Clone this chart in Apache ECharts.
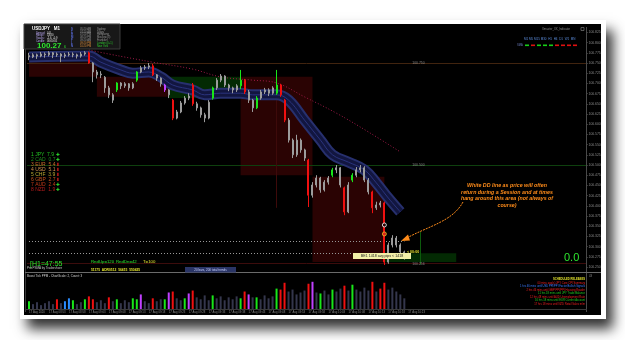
<!DOCTYPE html>
<html><head><meta charset="utf-8">
<script src="https://cdn.jsdelivr.net/npm/echarts@6/dist/echarts.min.js"></script>
<style>
html,body{margin:0;padding:0;background:#fff;width:625px;height:340px;overflow:hidden;}
#frame{position:absolute;left:20px;top:20px;width:586px;height:299px;background:#fff;box-shadow:7px 10px 12px rgba(0,0,0,0.8);}
#panel{position:absolute;left:24px;top:24px;width:577px;height:291px;background:#000;}
#chart{position:absolute;left:0;top:0;width:625px;height:340px;}
</style></head><body>
<div id="frame"></div><div id="panel"></div><div id="chart"></div>
<script>
// ---------- DATA ----------
const tickLabels = ["17 Aug 2020","17 Aug 08:53","17 Aug 08:58","17 Aug 09:03","17 Aug 09:08","17 Aug 09:13","17 Aug 09:18","17 Aug 09:23","17 Aug 09:28","17 Aug 09:33","17 Aug 09:38","17 Aug 09:43","17 Aug 09:48","17 Aug 09:53","17 Aug 09:58","17 Aug 10:03","17 Aug 10:08","17 Aug 10:13","17 Aug 10:18","17 Aug 10:23"];
const slotCount = 140;
// [open, close, low, high]
const ohlc = [
[100.768,100.765,100.757,100.775],[100.765,100.770,100.762,100.774],[100.770,100.767,100.760,100.773],[100.767,100.772,100.764,100.777],
[100.772,100.770,100.763,100.776],[100.770,100.775,100.766,100.779],[100.775,100.770,100.762,100.777],[100.770,100.772,100.765,100.776],
[100.772,100.767,100.752,100.774],[100.767,100.770,100.762,100.775],[100.770,100.772,100.766,100.777],[100.772,100.770,100.764,100.776],
[100.770,100.767,100.761,100.773],[100.767,100.772,100.763,100.777],[100.772,100.775,100.768,100.779],[100.775,100.750,100.748,100.778],
[100.750,100.728,100.703,100.752],[100.728,100.721,100.712,100.733],[100.721,100.723,100.713,100.730],[100.715,100.689,100.677,100.718],
[100.689,100.672,100.664,100.694],[100.672,100.659,100.652,100.676],[100.684,100.701,100.679,100.703],[100.701,100.694,100.686,100.703],
[100.694,100.699,100.689,100.703],[100.699,100.689,100.682,100.701],[100.689,100.699,100.686,100.703],[100.708,100.728,100.704,100.730],
[100.728,100.738,100.725,100.743],[100.738,100.740,100.733,100.745],[100.740,100.743,100.735,100.750],[100.743,100.721,100.718,100.748],
[100.721,100.713,100.706,100.723],[100.713,100.699,100.692,100.715],[100.696,100.684,100.679,100.699],[100.684,100.672,100.664,100.686],
[100.659,100.615,100.610,100.662],[100.615,100.630,100.612,100.635],[100.630,100.652,100.627,100.657],[100.652,100.664,100.648,100.669],
[100.664,100.669,100.659,100.676],[100.696,100.650,100.645,100.701],[100.650,100.640,100.633,100.655],[100.640,100.623,100.616,100.643],
[100.623,100.615,100.605,100.628],[100.615,100.654,100.612,100.659],[100.664,100.689,100.660,100.692],[100.689,100.708,100.684,100.713],
[100.708,100.718,100.703,100.723],[100.718,100.696,100.691,100.720],[100.696,100.689,100.681,100.699],[100.689,100.684,100.676,100.692],
[100.684,100.694,100.679,100.698],[100.694,100.708,100.686,100.733],[100.708,100.679,100.674,100.711],[100.679,100.659,100.652,100.684],
[100.659,100.640,100.630,100.662],[100.640,100.664,100.637,100.669],[100.664,100.679,100.660,100.684],[100.679,100.684,100.674,100.689],
[100.684,100.676,100.669,100.688],[100.676,100.689,100.672,100.693],[100.676,100.696,100.672,100.733],[100.696,100.672,100.667,100.699],
[100.659,100.610,100.605,100.662],[100.610,100.561,100.555,100.615],[100.561,100.525,100.517,100.565],[100.525,100.561,100.520,100.574],
[100.561,100.537,100.530,100.565],[100.537,100.517,100.510,100.540],[100.512,100.426,100.397,100.515],[100.426,100.451,100.420,100.458],
[100.451,100.468,100.445,100.475],[100.468,100.439,100.432,100.471],[100.439,100.458,100.435,100.463],[100.458,100.468,100.452,100.473],
[100.475,100.488,100.470,100.493],[100.488,100.493,100.480,100.500],[100.493,100.451,100.445,100.495],[100.444,100.385,100.377,100.447],
[100.385,100.451,100.382,100.458],[100.463,100.475,100.458,100.480],[100.475,100.488,100.470,100.495],[100.488,100.493,100.482,100.500],
[100.493,100.463,100.458,100.497],[100.463,100.434,100.428,100.468],[100.434,100.395,100.382,100.437],[100.395,100.402,100.390,100.410],
[100.402,100.407,100.396,100.412],[100.407,100.262,100.255,100.410],[100.262,100.304,100.258,100.310],[100.304,100.321,100.298,100.328],
[100.321,100.304,100.298,100.326],[100.304,100.287,100.280,100.308],[100.287,100.272,100.268,100.290]
];
const candleGreen = [22,27,46,53,57,62,76,81];
const candleRed = [15,31,36,41,54,63,64,70,79,86,89];
const candleMagenta = [34];

const bandIdx = [0,15,18,23,26,30,33,36,41,44,48,53,56,62,65,69,73,76,80,84,87,90,93];
const bandVal = [100.765,100.767,100.752,100.733,100.725,100.728,100.716,100.696,100.684,100.672,100.676,100.676,100.672,100.672,100.659,100.610,100.561,100.525,100.507,100.488,100.456,100.419,100.385];
const maIdx = [15,20,31,41,48,56,62,69,77,85,93];
const maVal = [100.782,100.772,100.752,100.735,100.716,100.708,100.701,100.667,100.627,100.581,100.532];

const volume = [16,10,14,8,12,16,10,20,12,16,22,18,10,14,20,26,20,14,18,12,24,16,20,12,18,14,22,20,30,16,
12,22,16,20,20,34,36,22,18,22,32,38,24,20,28,18,28,22,26,18,24,20,26,22,36,30,24,24,20,28,
22,26,42,40,54,36,40,30,34,38,52,56,34,32,38,30,40,36,42,48,38,50,40,36,44,38,56,36,42,54,
40,44,36,30,22];
const volGreen = [0,11,14,22,26,27,34,39,46,53,57,62,73,76,81];
const volRed = [7,15,16,20,31,36,41,54,63,64,70,79,86,88,89];
const volBlue = [9,10];
const volMagenta = [28,35,40,55,71];

const sessionStart = [0,17,35,53,71,89];
const sessionEnd = [17,35,53,71,89,107];
const sessionHigh = [100.752,100.716,100.716,100.716,100.471,100.284];
const sessionLow = [100.716,100.667,100.664,100.475,100.262,100.262];
const sessionBull = [false,false,true,false,false,true];

const levelValues = [100.750,100.500,100.256];
const levelLabelSlot = 96;
const dottedLevels = [100.314,100.284];
const dottedEnd = 94;
const currentPrice = 100.272;
const markerSlot = 89;
const markerWhite = 100.353;
const markerOrange = 100.331;

const strengthNames = ["1 JPY  7.9","2 CAD  0.7","3 EUR  5.4","4 USD  5.1","5 CHF  3.9","6 GBP  2.7","7 AUD  2.4","8 NZD  1.9"];
const strengthUp = [true,true,false,false,false,false,true,true];

// ---------- BUILD ----------
const slots = Array.from({length: slotCount}, (_, i) => i);
function colorOf(i, g, r, m, b) {
  if (g.includes(i)) return '#19e619';
  if (r.includes(i)) return '#f01010';
  if (m && m.includes(i)) return '#c040ff';
  if (b && b.includes(i)) return '#2a8cff';
  return null;
}
const candleData = ohlc.map((v, i) => {
  const c = colorOf(i, candleGreen, candleRed, candleMagenta);
  if (!c) return v;
  return {value: v, itemStyle: {color: c, color0: c, borderColor: c, borderColor0: c}};
});
const volData = volume.map((v, i) => {
  const c = colorOf(i, volGreen, volRed, volMagenta, volBlue) || '#34364c';
  return {value: v, itemStyle: {color: c}};
});
const band = bandIdx.map((x, i) => [x, bandVal[i]]);
const ma = maIdx.map((x, i) => [x, maVal[i]]);
const areas = sessionStart.map((s, i) => [
  {coord: [s, sessionHigh[i]], itemStyle: {color: sessionBull[i] ? '#032a03' : '#2a0303'}},
  {coord: [sessionEnd[i], sessionLow[i]]}
]);

const F = 'Liberation Sans, DejaVu Sans, sans-serif';
const G = [];
function T(x, y, text, size, color, extra) {
  G.push({type: 'text', x: x, y: y, z: 50,
    style: Object.assign({text: text, fontSize: size, fill: color, fontFamily: F, textVerticalAlign: 'middle'}, extra || {})});
}
// frame lines
G.push({type: 'line', z: 1, shape: {x1: 25.5, y1: 27, x2: 25.5, y2: 312}, style: {stroke: '#3a3a3a', lineWidth: 1}});
G.push({type: 'line', z: 1, shape: {x1: 586.5, y1: 27, x2: 586.5, y2: 312}, style: {stroke: '#4a4a4a', lineWidth: 1}});
G.push({type: 'line', z: 1, shape: {x1: 25, y1: 272.5, x2: 601, y2: 272.5}, style: {stroke: '#6a6a6a', lineWidth: 1}});
G.push({type: 'line', z: 1, shape: {x1: 25, y1: 309.5, x2: 587, y2: 309.5}, style: {stroke: '#3a3a3a', lineWidth: 1}});
// info box
G.push({type: 'rect', z: 40, shape: {x: 24, y: 24, width: 96, height: 25}, style: {fill: '#181818', stroke: '#3c3c3c', lineWidth: 1}});
T(32, 28.5, 'USDJPY   M1', 4.5, '#ffffff', {fontWeight: 'bold'});
const infoL = ['Spread:', 'Range:', 'Swaps:', 'Candle:'];
const infoV = ['0.8', '53.80', '-2.6, -0.9', '00:00:05'];
infoL.forEach((t, i) => { T(36, 33 + i * 2.6, t, 2.6, '#b7a6ee'); T(47, 33 + i * 2.6, infoV[i], 2.6, '#e0e0e0'); });
T(37, 45.5, '100.27', 8, '#2ee62e', {fontWeight: 'bold'});
T(64, 47, '6', 3.5, '#2ee62e');
['S', 'T', 'H', 'M', 'F', 'L', 'N'].forEach((c, i) => T(71, 29 + i * 2.8, c, 2.8, '#5a6ee0', {fontWeight: 'bold'}));
const tTimes = ['05:20 AM', '07:20 AM', '07:20 PM', '08:20 PM', '09:20 AM', '09:20 PM', '10:20 PM'];
const tNames = ['Sydney', 'Tokyo', 'Hongkong', 'Moscow (3)', 'Frankfurt', 'London (0+1)', 'New York'];
tTimes.forEach((t, i) => {
  T(80, 29 + i * 2.8, t, 2.6, i >= 5 ? '#e0903c' : '#9a9a9a');
  T(97, 29 + i * 2.8, tNames[i], 2.6, i >= 5 ? '#2ecc2e' : '#9a9a9a');
});
// top right
T(542, 29, 'Xmaster_XX_Indicator', 2.8, '#8a8a8a');
G.push({type: 'rect', z: 40, shape: {x: 581, y: 27.5, width: 3, height: 3}, style: {fill: 'none', stroke: '#8a8a8a', lineWidth: 0.6}});
T(524, 39, 'M1 M5 M15 M30  H1  H4  D1  W1  MN', 3, '#5a8ad8');
T(517, 45.5, 'SMA', 2.6, '#6a7ab8');
['#16d016', '#e01010', '#16d016', '#16d016', '#16d016', '#e01010', '#e01010', '#e01010', '#e01010'].forEach((c, i) => {
  G.push({type: 'rect', z: 40, shape: {x: 525 + i * 6, y: 44.5, width: 4, height: 1.6}, style: {fill: c}});
});
// currency strength
const sCols = ['#22c422', '#1f8a1f', '#c86a2a', '#d09050', '#b8a832', '#c4521e', '#c23a18', '#b41c1c'];
strengthNames.forEach((t, i) => {
  T(31, 154.5 + i * 5, t, 5, sCols[i]);
  T(56, 154.5 + i * 5, strengthUp[i] ? '✚' : '⬇', 4.5, strengthUp[i] ? '#2ee62e' : '#ee2020', {fontFamily: 'DejaVu Sans', fontWeight: 'bold'});
});
// annotation
const ann = ['White DD line as price will often', 'return during a Session and at times', 'hang around this area (not always of', 'course)'];
ann.forEach((t, i) => T(507, 186 + i * 6.5, t, 5.3, '#ff8c1a', {fontStyle: 'italic', fontWeight: 'bold', textAlign: 'center'}));
G.push({type: 'bezierCurve', z: 45, shape: {x1: 463, y1: 202, cpx1: 452, cpy1: 222, cpx2: 428, cpy2: 226, x2: 405, y2: 239},
  style: {stroke: '#ff8c1a', lineWidth: 1, lineDash: [2, 1], fill: null}});
G.push({type: 'polygon', z: 45, shape: {points: [[401, 241], [408, 234.5], [410, 240.5]]}, style: {fill: '#ff8c1a'}});
// bottom left texts
T(30, 264, '[H1=47:55', 7, '#2ee62e');
T(27, 268.5, 'Pro PSMA by Tradershore', 3, '#c8c8c8');
T(91, 262, 'RndUp=120', 4.3, '#2ee62e');
T(116, 262, 'RndDn=42', 4.3, '#2ee62e');
T(143, 262, 'T=100', 4.3, '#e6e62e');
T(91, 270, '51175  ADR0512  56415  550425', 3.3, '#e6e62e', {fontWeight: 'bold'});
G.push({type: 'rect', z: 40, shape: {x: 185, y: 267, width: 51, height: 5.5}, style: {fill: '#2a3566'}});
T(210.5, 269.8, '20 bars, 200 total trends', 3, '#c8d0ff', {textAlign: 'center'});
T(27, 276.5, 'Boost Tick PPM - ChartScale: 2, Count: 3', 3, '#d0d0d0');
// yellow label + timer
G.push({type: 'rect', z: 40, shape: {x: 353, y: 253, width: 58, height: 6}, style: {fill: '#f2f0a8'}});
T(382, 256, 'BE1 1418 avg pips < 1418', 3.6, '#202020', {textAlign: 'center'});
T(407, 251.5, '< 00:00', 3.6, '#e6e62e', {fontWeight: 'bold'});
T(564, 258, '0.0', 11, '#2ee62e');
// schedule
const sched = ['SCHEDULED RELEASES', '00 mins ago(s) JPY Core CPI Summary', '1 hrs 46 mins until USD PPI/PPI Factor Bullish Signals',
  '2 hrs 46 mins until GBP PPI/PPI Housing Reader', '11 hrs 18 mins until JPY Trade Balance', '12 hrs 48 mins until AUD Unemployment Rate',
  '16 hrs 18 mins until EUR Current Account', '17 hrs 18 mins until NZD Retail Sales m/m'];
const schedCol = ['#e6e62e', '#f02020', '#3a7aff', '#f02020', '#22cc22', '#f02020', '#22cc22', '#f02020'];
sched.forEach((t, i) => T(585, 279.5 + i * 3.5, t, 2.7, schedCol[i], {textAlign: 'right', fontWeight: i === 0 ? 'bold' : 'normal'}));
T(589, 276, '43', 2.8, '#8a8a8a');

const option = {
  animation: false,
  backgroundColor: 'transparent',
  graphic: G,
  grid: [
    {left: 27, width: 559, top: 32.4, height: 234.6},
    {left: 27, width: 559, top: 275, height: 34}
  ],
  xAxis: [
    {type: 'category', gridIndex: 0, data: slots, boundaryGap: true, show: false},
    {type: 'category', gridIndex: 1, data: slots, boundaryGap: true,
      axisLine: {show: false}, axisTick: {show: false},
      axisLabel: {interval: 0, fontSize: 2.8, color: '#8a8a8a', margin: 1.5, align: 'left', fontFamily: F,
        formatter: (v, i) => (i % 5 === 0 && tickLabels[i / 5]) ? tickLabels[i / 5] : ''}}
  ],
  yAxis: [
    {type: 'value', gridIndex: 0, position: 'right', min: 100.25, max: 100.825, interval: 0.025,
      splitLine: {show: false}, axisLine: {show: false}, axisTick: {show: true, length: 1.5, lineStyle: {color: '#666'}},
      axisLabel: {fontSize: 3.4, color: '#8c8c8c', margin: 2.5, fontFamily: F, formatter: v => v.toFixed(3)}},
    {type: 'value', gridIndex: 1, position: 'right', min: 0, max: 70, show: false}
  ],
  series: [
    {type: 'line', name: 'sessions', xAxisIndex: 0, yAxisIndex: 0, data: [], z: 1,
      markArea: {silent: true, data: areas}},
    {type: 'line', xAxisIndex: 0, yAxisIndex: 0, data: band, smooth: 0.4, symbol: 'none', z: 2,
      lineStyle: {width: 11, color: '#27306e', cap: 'butt'}},
    {type: 'line', xAxisIndex: 0, yAxisIndex: 0, data: band, smooth: 0.4, symbol: 'none', z: 2,
      lineStyle: {width: 7, color: '#121640', cap: 'butt'}},
    {type: 'line', xAxisIndex: 0, yAxisIndex: 0, data: band, smooth: 0.4, symbol: 'none', z: 2,
      lineStyle: {width: 1, color: '#2a337c'}},
    {type: 'line', xAxisIndex: 0, yAxisIndex: 0, data: ma, smooth: 0.4, symbol: 'none', z: 3,
      lineStyle: {width: 1, color: '#a01a48', type: [1, 2]}},
    {type: 'candlestick', xAxisIndex: 0, yAxisIndex: 0, data: candleData, barWidth: 1.5, z: 5,
      itemStyle: {color: '#8c8c8c', color0: '#8c8c8c', borderColor: '#9c9c9c', borderColor0: '#9c9c9c', borderWidth: 1},
      markLine: {silent: true, symbol: 'none', z: 1,
        data: [
          {yAxis: levelValues[0], lineStyle: {color: '#41240f', type: 'solid', width: 1}, label: {show: false}},
          {yAxis: levelValues[1], lineStyle: {color: '#0e400e', type: 'solid', width: 1}, label: {show: false}},
          {yAxis: levelValues[2], lineStyle: {color: '#3c0c0c', type: 'solid', width: 1}, label: {show: false}},
          [{coord: [0, dottedLevels[0]], lineStyle: {color: '#9a9a9a', type: [1, 2], width: 1}, label: {show: false}}, {coord: [dottedEnd, dottedLevels[0]]}],
          [{coord: [0, dottedLevels[1]], lineStyle: {color: '#9a9a9a', type: [1, 2], width: 1}, label: {show: false}}, {coord: [dottedEnd, dottedLevels[1]]}],
          [{coord: [62, 100.733], lineStyle: {color: '#3e0a0a', type: 'solid', width: 1}, label: {show: false}}, {coord: [62, 100.395]}],
          [{coord: [98, 100.336], lineStyle: {color: '#0c5a0c', type: 'solid', width: 1}, label: {show: false}}, {coord: [98, 100.256]}],
          {yAxis: currentPrice, lineStyle: {opacity: 0}, label: {show: true, position: 'end', distance: 1, fontSize: 3.4,
            color: '#000', backgroundColor: '#c8c8c8', padding: [0.5, 1], formatter: currentPrice.toFixed(3)}}
        ]}},
    {type: 'scatter', xAxisIndex: 0, yAxisIndex: 0, z: 6, symbolSize: 0,
      data: levelValues.map(v => [levelLabelSlot, v]),
      label: {show: true, position: 'right', distance: 0, fontSize: 3.4, color: '#a8a8a8', fontFamily: F, formatter: p => p.value[1].toFixed(3)}},
    {type: 'scatter', xAxisIndex: 0, yAxisIndex: 0, z: 7, symbol: 'circle', symbolSize: 4,
      data: [
        {value: [markerSlot, markerWhite], itemStyle: {color: '#000', borderColor: '#ffffff', borderWidth: 1}},
        {value: [markerSlot, markerOrange], itemStyle: {color: '#e02020', borderColor: '#f0c020', borderWidth: 1}}
      ]},
    {type: 'bar', xAxisIndex: 1, yAxisIndex: 1, data: volData, barWidth: 2, z: 3}
  ]
};
const chart = echarts.init(document.getElementById('chart'), null, {renderer: 'canvas'});
chart.setOption(option);
</script></body></html>
